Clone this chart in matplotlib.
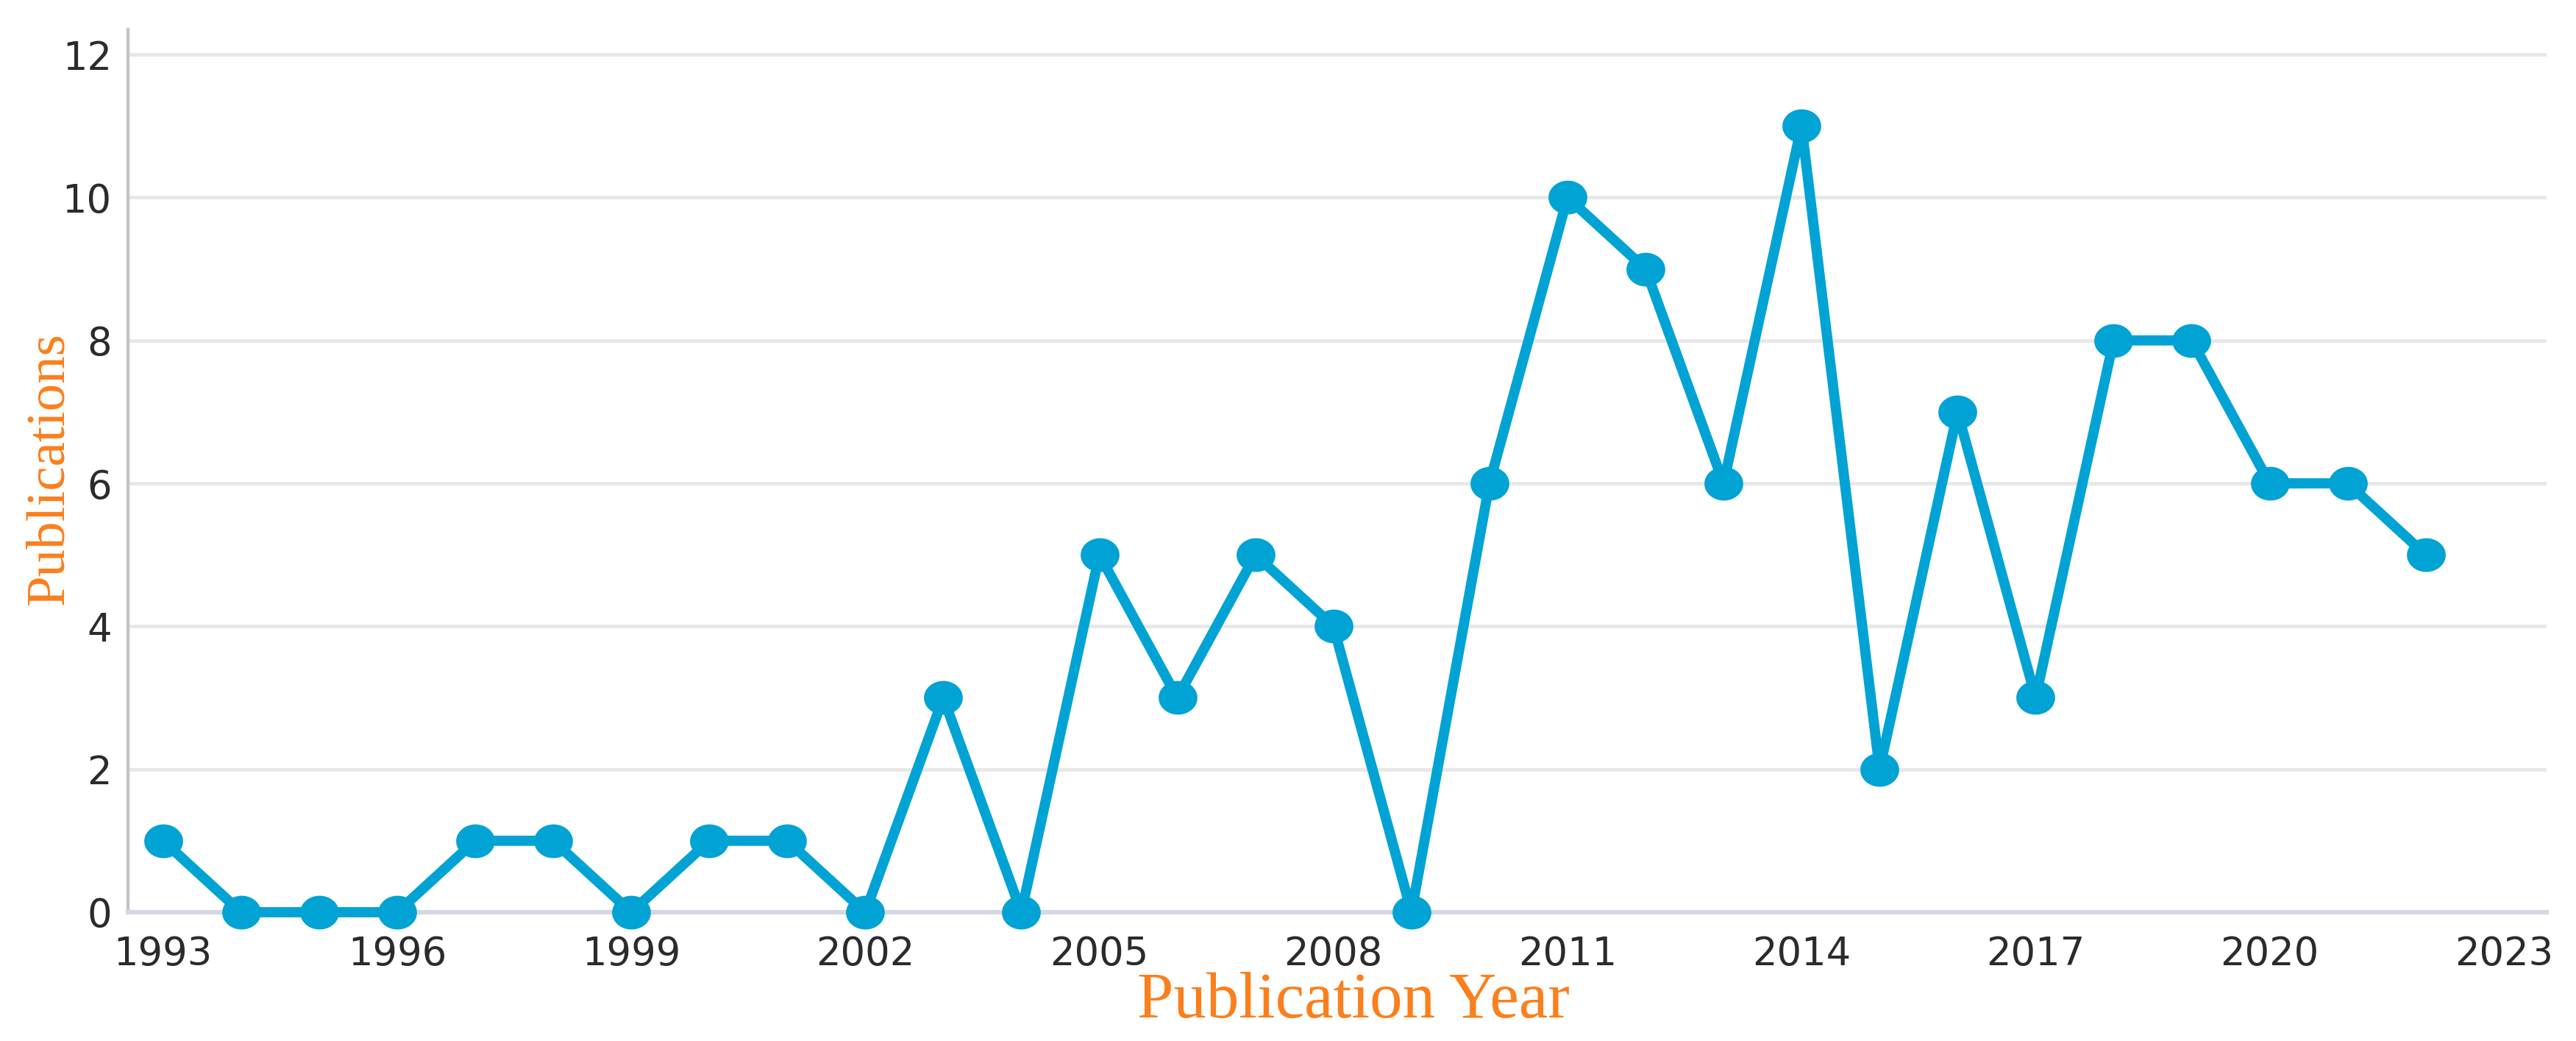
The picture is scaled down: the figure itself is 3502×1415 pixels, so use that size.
import numpy as np
import matplotlib
matplotlib.use("Agg")
import matplotlib.pyplot as plt
from matplotlib.path import Path

# ====================== DATA ======================
years = list(range(1993, 2023))
publications = [1, 0, 0, 0, 1, 1, 0, 1, 1, 0,
                3, 0, 5, 3, 5, 4, 0, 6, 10, 9,
                6, 11, 2, 7, 3, 8, 8, 6, 6, 5]
x_ticks = list(range(1993, 2024, 3))
y_ticks = list(range(0, 13, 2))

line_color = '#00a3d4'
label_color = '#fb7f1c'
tick_color = '#2b2b2b'

# wide ellipse marker (the original picture is stretched sideways)
t = np.linspace(0, 2 * np.pi, 60)
ellipse = Path(np.column_stack([1.15 * np.cos(t), np.sin(t)]), closed=True)

# ====================== FIGURE ======================
fig = plt.figure(figsize=(35.02, 14.15), dpi=100)
ax = fig.add_axes([0.0497, 0.1237, 0.9389, 0.848])

ax.plot(years, publications, color=line_color, lw=10,
        marker=ellipse, markersize=38, markeredgewidth=0,
        markerfacecolor=line_color, clip_on=False, zorder=5)

ax.set_xlim(1992.55, 2023.55)
ax.set_ylim(0, 12.35)
ax.set_xticks(x_ticks)
ax.set_yticks(y_ticks)

ax.grid(axis='y', color='#e8e8e8', lw=3.5)
ax.set_axisbelow(True)

for side in ['top', 'right']:
    ax.spines[side].set_visible(False)
ax.spines['left'].set_color('#c4c4c4')
ax.spines['left'].set_linewidth(3.2)
ax.spines['bottom'].set_color('#d5d8e2')
ax.spines['bottom'].set_linewidth(4.5)

ax.tick_params(axis='both', length=0, labelsize=38, labelcolor=tick_color)
ax.tick_params(axis='y', pad=16)
ax.tick_params(axis='x', pad=22)
for lab in ax.get_xticklabels() + ax.get_yticklabels():
    lab.set_family('DejaVu Sans')

fig.text(0.5254, 0.0226, 'Publication Year', ha='center', va='baseline',
         fontsize=64, color=label_color, family='Liberation Serif')
fig.text(0.0194, 0.5498, 'Publications', ha='center', va='center',
         rotation=90, fontsize=54, color=label_color, family='Liberation Serif')

fig.savefig('out.png', dpi=100)
